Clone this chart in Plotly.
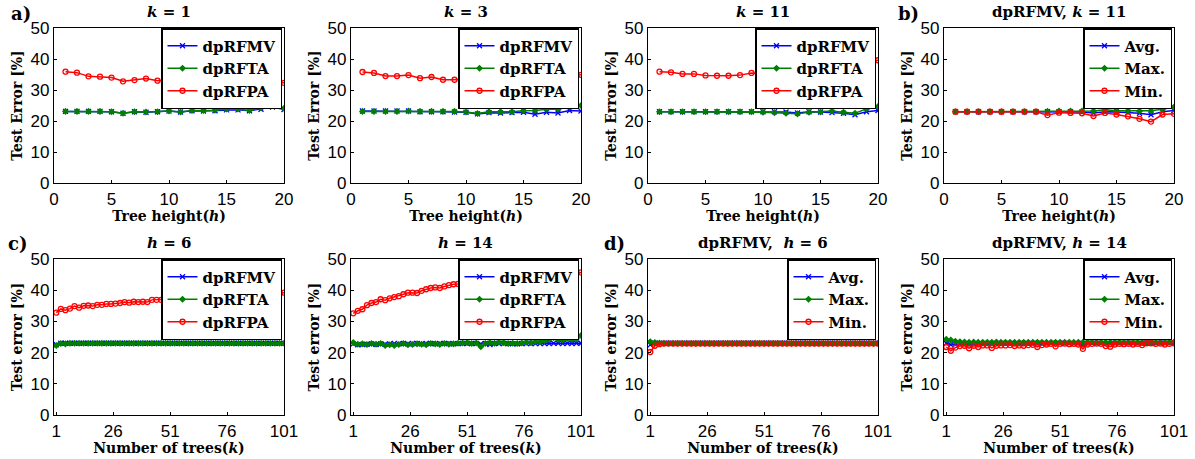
import plotly.graph_objects as go

# ---------------- data ----------------
tree_height = [1, 2, 3, 4, 5, 6, 7, 8, 9, 10, 11, 12, 13, 14, 15, 16, 17, 18, 19, 20]
num_trees = [1, 3, 5, 7, 9, 11, 13, 15, 17, 19, 21, 23, 25, 27, 29, 31, 33, 35, 37, 39,
             41, 43, 45, 47, 49, 51, 53, 55, 57, 59, 61, 63, 65, 67, 69, 71, 73, 75, 77, 79,
             81, 83, 85, 87, 89, 91, 93, 95, 97, 99, 101]

# a) k = 1
mv_k1 = [23.1, 23.1, 23.1, 23.1, 23.0, 22.5, 23.0, 22.8, 23.0, 23.2, 22.9, 23.3, 23.2, 23.3, 23.6, 23.6, 23.3, 23.8, 24.5, 23.7]
ta_k1 = [23.1, 23.1, 23.1, 23.1, 23.0, 22.5, 23.0, 22.9, 23.0, 23.2, 22.9, 23.4, 23.4, 23.5, 23.9, 23.9, 23.4, 24.2, 25.0, 24.1]
pa_k1 = [35.9, 35.6, 34.4, 34.3, 34.0, 32.8, 33.2, 33.7, 33.0, 33.3, 33.1, 32.9, 33.0, 32.7, 32.8, 32.6, 32.9, 32.5, 32.6, 32.3]
# a) k = 3
mv_k3 = [23.2, 23.2, 23.2, 23.2, 23.2, 23.0, 23.0, 23.0, 22.9, 22.8, 22.3, 22.7, 22.6, 22.7, 22.8, 22.2, 22.8, 22.6, 23.4, 23.2]
ta_k3 = [23.1, 23.1, 23.1, 23.1, 23.2, 23.1, 23.1, 23.1, 23.1, 22.9, 22.4, 23.0, 23.0, 23.0, 23.3, 23.4, 23.8, 23.8, 24.6, 25.0]
pa_k3 = [35.8, 35.5, 34.5, 34.5, 34.8, 33.8, 34.2, 33.3, 33.3, 33.6, 33.8, 34.0, 33.9, 34.2, 34.1, 34.4, 34.3, 34.6, 34.5, 34.9]
# a) k = 11
mv_k11 = [23.0, 23.0, 23.0, 23.0, 23.0, 23.0, 23.0, 23.0, 23.0, 23.0, 23.0, 22.9, 22.6, 23.0, 22.9, 22.7, 22.5, 22.0, 23.0, 23.4]
ta_k11 = [23.0, 23.0, 23.0, 23.0, 23.0, 23.0, 23.0, 23.0, 23.0, 22.8, 22.7, 22.5, 22.3, 22.8, 22.9, 23.2, 22.8, 22.5, 23.9, 24.7]
pa_k11 = [35.9, 35.7, 35.2, 35.2, 34.7, 34.6, 34.6, 34.8, 35.5, 35.3, 35.6, 35.8, 36.1, 36.4, 36.8, 37.2, 37.6, 38.2, 38.9, 39.6]
# b) dpRFMV, k = 11
avg_k11 = [23.0, 23.0, 23.0, 23.0, 23.0, 23.0, 23.0, 23.0, 23.0, 23.0, 23.0, 22.9, 22.6, 23.0, 22.9, 22.7, 22.5, 22.0, 23.0, 23.4]
max_k11 = [23.0, 23.0, 23.0, 23.0, 23.0, 23.0, 23.0, 23.0, 23.1, 23.2, 23.2, 23.2, 23.2, 23.6, 23.3, 23.3, 23.2, 23.3, 23.8, 24.5]
min_k11 = [23.0, 23.0, 23.0, 23.0, 23.0, 23.0, 23.0, 23.0, 21.9, 22.7, 22.6, 22.5, 21.6, 22.6, 22.1, 21.5, 20.7, 19.8, 22.1, 22.3]

# c) h = 6
mv_h6 = [22.5, 23.0, 23.0, 23.0, 23.0, 23.0, 23.0, 23.0, 23.0, 23.0, 23.0, 23.0, 23.0, 23.0, 23.0, 23.0, 23.0,
         23.0, 23.0, 23.0, 23.0, 23.0, 23.0, 23.0, 23.0, 23.0, 23.0, 23.0, 23.0, 23.0, 23.0, 23.0, 23.0, 23.0,
         23.0, 23.0, 23.0, 23.0, 23.0, 23.0, 23.0, 23.0, 23.0, 23.0, 23.0, 23.0, 23.0, 23.0, 23.0, 23.0, 23.0]
ta_h6 = [22.3, 22.9, 22.8, 23.0, 23.0, 23.0, 23.0, 23.0, 23.0, 23.0, 23.0, 23.0, 23.0, 23.0, 23.0, 23.0, 23.0,
         23.0, 23.0, 23.0, 23.0, 23.0, 23.0, 23.0, 23.0, 23.0, 23.0, 23.0, 23.0, 23.0, 23.0, 23.0, 23.0, 23.0,
         23.0, 23.0, 23.0, 23.0, 23.0, 23.0, 23.0, 23.0, 23.0, 23.0, 23.0, 23.0, 23.0, 23.0, 23.0, 23.0, 23.0]
pa_h6 = [32.8, 34.0, 33.6, 34.1, 34.9, 34.4, 35.0, 35.1, 34.9, 35.3, 35.3, 35.6, 35.6, 35.7, 35.9, 36.2, 36.0,
         36.3, 36.2, 36.3, 36.2, 36.9, 36.9, 36.9, 37.0, 37.1, 37.2, 37.3, 37.3, 37.4, 37.5, 37.6, 37.6, 37.7,
         37.8, 37.8, 37.9, 38.0, 38.1, 38.1, 38.2, 38.3, 38.4, 38.5, 38.6, 38.7, 38.8, 38.9, 39.0, 39.1, 39.2]
# c) h = 14
mv_h14 = [22.8, 22.5, 22.6, 22.7, 22.8, 22.6, 22.8, 22.7, 22.8, 22.9, 22.8, 22.9, 22.8, 22.9, 22.9, 22.8, 22.9,
          22.9, 22.8, 22.9, 22.9, 22.9, 22.8, 22.9, 22.9, 22.9, 22.9, 22.9, 22.8, 22.9, 22.6, 22.9, 22.9, 22.9,
          22.9, 22.8, 22.8, 22.9, 22.9, 22.9, 22.9, 22.9, 22.9, 22.9, 23.0, 23.0, 22.9, 23.0, 22.9, 23.0, 23.0]
ta_h14 = [23.2, 22.7, 22.8, 22.6, 22.9, 22.7, 22.9, 22.3, 22.5, 22.3, 22.6, 22.9, 22.5, 22.6, 22.8, 22.7, 22.5,
          22.9, 22.8, 22.6, 22.9, 22.7, 22.8, 23.0, 23.1, 23.2, 22.9, 23.1, 21.9, 22.9, 23.2, 23.0, 23.3, 23.2,
          22.9, 23.0, 22.9, 23.1, 23.3, 23.2, 23.5, 23.4, 23.8, 24.2, 24.8, 24.3, 24.0, 24.5, 24.2, 24.4, 25.5]
pa_h14 = [32.6, 33.4, 33.9, 35.2, 35.9, 36.2, 37.1, 36.8, 37.4, 37.8, 38.1, 38.7, 39.2, 39.2, 39.1, 39.8, 40.3,
          40.7, 40.9, 40.7, 41.2, 41.6, 41.9, 42.0, 42.2, 42.4, 42.6, 42.8, 43.0, 43.1, 43.3, 43.4, 43.6, 43.7,
          43.8, 44.0, 44.1, 44.2, 44.4, 44.5, 44.6, 44.7, 44.8, 44.9, 45.0, 45.1, 45.2, 45.3, 45.4, 45.5, 45.7]
# d) dpRFMV, h = 6
avg_h6 = [22.5, 23.0, 23.0, 23.0, 23.0, 23.0, 23.0, 23.0, 23.0, 23.0, 23.0, 23.0, 23.0, 23.0, 23.0, 23.0, 23.0,
          23.0, 23.0, 23.0, 23.0, 23.0, 23.0, 23.0, 23.0, 23.0, 23.0, 23.0, 23.0, 23.0, 23.0, 23.0, 23.0, 23.0,
          23.0, 23.0, 23.0, 23.0, 23.0, 23.0, 23.0, 23.0, 23.0, 23.0, 23.0, 23.0, 23.0, 23.0, 23.0, 23.0, 23.0]
max_h6 = [23.5, 23.2, 23.1, 23.0, 23.0, 23.0, 23.0, 23.0, 23.0, 23.0, 23.0, 23.0, 23.0, 23.0, 23.0, 23.0, 23.0,
          23.0, 23.0, 23.0, 23.0, 23.0, 23.0, 23.0, 23.0, 23.0, 23.0, 23.0, 23.0, 23.0, 23.0, 23.0, 23.0, 23.0,
          23.0, 23.0, 23.0, 23.0, 23.0, 23.0, 23.0, 23.0, 23.0, 23.0, 23.0, 23.0, 23.0, 23.0, 23.0, 23.0, 23.0]
min_h6 = [20.2, 22.2, 22.7, 22.9, 22.9, 22.9, 22.9, 22.9, 22.9, 22.9, 22.9, 22.9, 22.9, 22.9, 22.9, 22.9, 22.9,
          22.9, 22.9, 22.9, 22.9, 22.9, 22.9, 22.9, 22.9, 22.9, 22.9, 22.9, 22.9, 22.9, 22.9, 22.9, 22.9, 22.9,
          22.9, 22.9, 22.9, 22.9, 22.9, 22.9, 22.9, 22.9, 22.9, 22.9, 22.9, 22.9, 22.9, 22.9, 22.9, 22.9, 22.9]
# d) dpRFMV, h = 14
avg_h14 = [23.0, 22.5, 22.6, 22.7, 22.8, 22.6, 22.8, 22.7, 22.8, 22.9, 22.8, 22.9, 22.8, 22.9, 22.9, 22.8, 22.9,
           22.9, 22.8, 22.9, 22.9, 22.9, 22.8, 22.9, 22.9, 22.9, 22.9, 22.9, 22.8, 22.9, 22.6, 22.9, 22.9, 22.9,
           22.9, 22.8, 22.8, 22.9, 22.9, 22.9, 22.9, 22.9, 22.9, 22.9, 23.0, 23.0, 22.9, 23.0, 22.9, 23.0, 23.0]
max_h14 = [24.3, 24.0, 23.6, 23.5, 23.4, 23.3, 23.4, 23.3, 23.3, 23.3, 23.3, 23.4, 23.3, 23.3, 23.3, 23.3, 23.3,
           23.3, 23.3, 23.3, 23.3, 23.3, 23.3, 23.3, 23.3, 23.3, 23.3, 23.3, 23.3, 23.3, 23.3, 23.3, 23.4, 23.3,
           23.3, 23.3, 23.3, 23.3, 23.3, 23.3, 23.3, 23.3, 23.3, 23.3, 23.3, 23.4, 23.3, 23.3, 23.3, 23.3, 23.4]
min_h14 = [21.8, 20.6, 21.6, 22.1, 22.2, 21.4, 22.2, 21.8, 22.3, 22.3, 21.5, 22.2, 22.3, 22.3, 22.4, 22.1, 22.3,
           22.2, 22.4, 22.5, 21.8, 22.4, 22.6, 22.8, 22.0, 22.8, 22.9, 22.7, 22.8, 22.6, 21.2, 22.6, 22.8, 22.9,
           22.8, 22.1, 21.9, 22.6, 22.8, 22.7, 22.8, 22.6, 22.8, 22.4, 23.0, 23.0, 22.8, 22.9, 22.6, 22.8, 23.0]

names_alg = ["dpRFMV", "dpRFTA", "dpRFPA"]
names_stat = ["Avg.", "Max.", "Min."]
titles = ["<i>k</i> = 1", "<i>k</i> = 3", "<i>k</i> = 11", "dpRFMV, <i>k</i> = 11",
          "<i>h</i> = 6", "<i>h</i> = 14", "dpRFMV,  <i>h</i> = 6", "dpRFMV, <i>h</i> = 14"]
panel_labels = ["a)", "b)", "c)", "d)"]

panels = [
    (tree_height, [mv_k1, ta_k1, pa_k1], names_alg),
    (tree_height, [mv_k3, ta_k3, pa_k3], names_alg),
    (tree_height, [mv_k11, ta_k11, pa_k11], names_alg),
    (tree_height, [avg_k11, max_k11, min_k11], names_stat),
    (num_trees, [mv_h6, ta_h6, pa_h6], names_alg),
    (num_trees, [mv_h14, ta_h14, pa_h14], names_alg),
    (num_trees, [avg_h6, max_h6, min_h6], names_stat),
    (num_trees, [avg_h14, max_h14, min_h14], names_stat),
]

# ---------------- styling ----------------
W, H = 1195, 459
SERIF = "DejaVu Serif"
SANS = "Liberation Sans"
colors = ["#0000FF", "#008000", "#FF0000"]
symbols = ["x-thin-open", "diamond", "circle-open"]
msizes = [5, 4, 5]

# pixel positions of plot areas in the window
col_px = [(54, 284), (351, 581), (648, 878), (944, 1174)]
row_px = [(28, 183), (259, 415)]


def fx(px):
    return px / W


def fy(py):
    return 1 - py / H


def xdom(c):
    return [fx(col_px[c][0]), fx(col_px[c][1])]


def ydom(r):
    return [fy(row_px[r][1]), fy(row_px[r][0])]


fig = go.Figure()
layout = dict(width=W, height=H, margin=dict(l=0, r=0, t=0, b=0),
              paper_bgcolor="white", plot_bgcolor="white", showlegend=True)
annotations = []

for i, (xs, ys_list, names) in enumerate(panels):
    r, c = divmod(i, 4)
    ax = "" if i == 0 else str(i + 1)
    leg = "legend" if i == 0 else "legend" + str(i + 1)
    for j, (ys, nm) in enumerate(zip(ys_list, names)):
        fig.add_trace(go.Scatter(
            x=xs, y=ys, name=nm, mode="lines+markers",
            xaxis="x" + ax, yaxis="y" + ax, legend=leg,
            line=dict(color=colors[j], width=1.5),
            marker=dict(symbol=symbols[j], size=msizes[j], color=colors[j],
                        line=dict(color=colors[j], width=1.3)),
        ))
    if r == 0:
        xt = dict(range=[0, 20], tickvals=[0, 5, 10, 15, 20],
                  title_text="Tree height(<i>h</i>)")
        ytitle = "Test Error [%]"
    else:
        xt = dict(range=[0, 101], tickvals=[1, 26, 51, 76, 101],
                  title_text="Number of trees(<i>k</i>)")
        ytitle = "Test error [%]"
    common = dict(showline=True, linecolor="black", linewidth=1.2, mirror=True,
                  ticks="inside", ticklen=3, tickcolor="black", showgrid=False,
                  zeroline=False, automargin=False,
                  tickfont=dict(family=SANS, size=17, color="black"),
                  title_font=dict(family=SERIF, size=14, color="black", weight="bold"))
    layout["xaxis" + ax] = dict(domain=xdom(c), anchor="y" + ax, title_standoff=0, **xt, **common)
    layout["yaxis" + ax] = dict(domain=ydom(r), anchor="x" + ax, range=[0, 50],
                                tickvals=[0, 10, 20, 30, 40, 50], title_text=ytitle,
                                title_standoff=4, **common)
    layout[leg] = dict(x=fx(col_px[c][1] - 2), xanchor="right", xref="paper",
                       y=ydom(r)[1], yanchor="top", yref="paper",
                       bgcolor="white", bordercolor="black", borderwidth=1.5,
                       font=dict(family=SERIF, size=15, color="black", weight="bold"),
                       itemwidth=30, tracegroupgap=0)
    # subplot title
    annotations.append(dict(text=titles[i], x=fx((col_px[c][0] + col_px[c][1]) / 2),
                            y=fy(12 if r == 0 else 243), xref="paper", yref="paper",
                            xanchor="center", yanchor="middle", showarrow=False,
                            font=dict(family=SERIF, size=15, color="black", weight="bold")))

label_pos = [(9, 13), (896, 13), (6, 243), (602, 243)]
for lab, (px, py) in zip(panel_labels, label_pos):
    annotations.append(dict(text=lab, x=fx(px), y=fy(py), xref="paper", yref="paper",
                            xanchor="left", yanchor="middle", showarrow=False,
                            font=dict(family=SERIF, size=18, color="black", weight="bold")))

layout["annotations"] = annotations
fig.update_layout(**layout)
# remove the page's default body margin so the figure fills the window exactly
fig.write_html("out.html", config={"displayModeBar": False},
               post_script="document.body.style.margin='0px';")
